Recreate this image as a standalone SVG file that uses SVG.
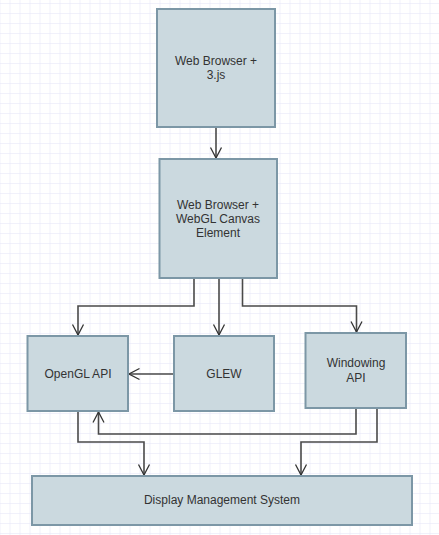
<svg xmlns="http://www.w3.org/2000/svg" width="439" height="535" viewBox="0 0 439 535">
<defs>
<pattern id="grid" x="0.5" y="4" width="10" height="10" patternUnits="userSpaceOnUse">
<path d="M10 0V10M0 10H10" fill="none" stroke="#e3e3f7" stroke-width="1"/>
</pattern>
<marker id="arr" viewBox="0 0 12 14" refX="11" refY="7" markerWidth="12" markerHeight="14" markerUnits="userSpaceOnUse" orient="auto">
<path d="M0.5 1.5L11 7L0.5 12.5" fill="none" stroke="#333" stroke-width="1.3"/>
</marker>
<style>
.box{fill:#cbd9df;stroke:#7c97a6;stroke-width:2}
.lbl{font-family:"Liberation Sans",Arial,sans-serif;font-size:12px;fill:#333;text-anchor:middle}
.c{fill:none;stroke:#4a4a4a;stroke-width:1.6;marker-end:url(#arr)}
</style>
</defs>
<rect width="439" height="535" fill="#fff"/>
<rect width="439" height="535" fill="url(#grid)"/>
<g id="connectors">
<path class="c" d="M216 128V158"/>
<path class="c" d="M194 279V306H78V335"/>
<path class="c" d="M219 279V335"/>
<path class="c" d="M242.5 279V306H356.5V332"/>
<path class="c" d="M174 374H129"/>
<path class="c" d="M356 408V434H98.5V412"/>
<path class="c" d="M377 408V442H301V475"/>
<path class="c" d="M78 412V442H144V475"/>
</g>
<g id="n1"><rect class="box" x="157" y="9" width="118" height="118"/><text class="lbl" x="216" y="65">Web Browser +</text><text class="lbl" x="216" y="79">3.js</text></g>
<g id="n2"><rect class="box" x="159.5" y="159" width="117.5" height="119"/><text class="lbl" x="218" y="209">Web Browser +</text><text class="lbl" x="218" y="223">WebGL Canvas</text><text class="lbl" x="218" y="237">Element</text></g>
<g id="n3"><rect class="box" x="27.5" y="336" width="100.5" height="75"/><text class="lbl" x="78" y="378">OpenGL API</text></g>
<g id="n4"><rect class="box" x="174" y="336" width="100" height="75"/><text class="lbl" x="224" y="378">GLEW</text></g>
<g id="n5"><rect class="box" x="305.5" y="333" width="100.5" height="75"/><text class="lbl" x="356" y="367">Windowing</text><text class="lbl" x="356" y="382">API</text></g>
<g id="n6"><rect class="box" x="32" y="476" width="380" height="49"/><text class="lbl" x="222" y="504">Display Management System</text></g>
</svg>
